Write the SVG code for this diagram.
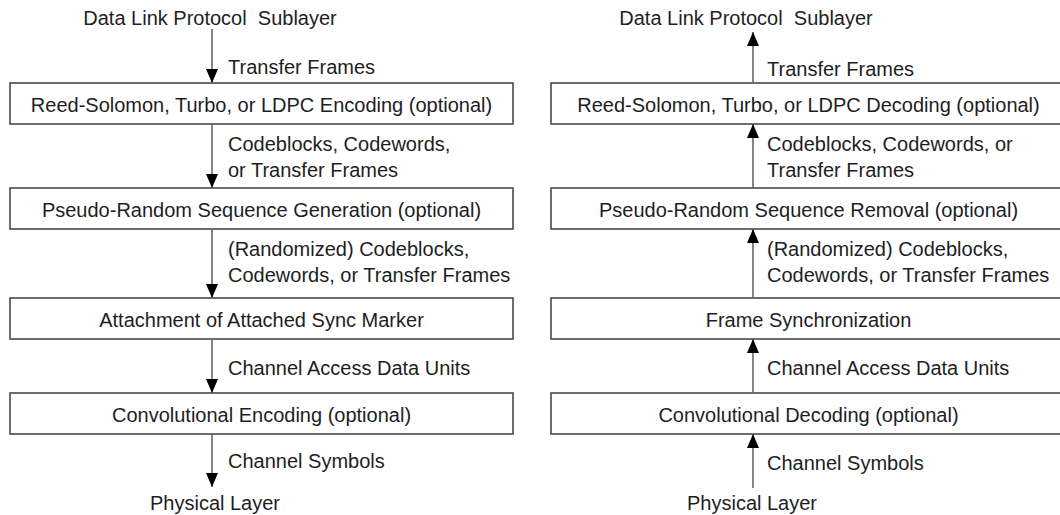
<svg xmlns="http://www.w3.org/2000/svg" width="1060" height="515" viewBox="0 0 1060 515">
  <style>
    text { font-family: "Liberation Sans", Arial, sans-serif; font-size: 20px; fill: #1e1e1e; }
    .mid { text-anchor: middle; }
    .box { fill: #ffffff; stroke: #4a4a4a; stroke-width: 1.6; }
    .flow { stroke: #666666; stroke-width: 1.6; fill: none; marker-end: url(#head); }
  </style>
  <defs>
    <marker id="head" markerUnits="userSpaceOnUse" markerWidth="14" markerHeight="12" refX="14" refY="6" orient="auto">
      <path d="M0,0 L14,6 L0,12 z" fill="#000000"/>
    </marker>
  </defs>
  <rect width="1060" height="515" fill="#ffffff"/>

  <!-- Transmit side (sending path, top to bottom) -->
  <g id="tx-top"><text x="210" y="25" class="mid" xml:space="preserve">Data Link Protocol  Sublayer</text></g>
  <g id="tx-rs"><rect class="box" x="10" y="83" width="503" height="41"/><text x="261.5" y="112" class="mid">Reed-Solomon, Turbo, or LDPC Encoding (optional)</text></g>
  <g id="tx-prs"><rect class="box" x="10" y="188" width="503" height="41"/><text x="261.5" y="217" class="mid">Pseudo-Random Sequence Generation (optional)</text></g>
  <g id="tx-asm"><rect class="box" x="10" y="298" width="503" height="41"/><text x="261.5" y="327" class="mid">Attachment of Attached Sync Marker</text></g>
  <g id="tx-conv"><rect class="box" x="10" y="393" width="503" height="41"/><text x="261.5" y="422" class="mid">Convolutional Encoding (optional)</text></g>
  <g id="tx-bottom"><text x="215" y="510" class="mid">Physical Layer</text></g>

  <!-- Receive side (receiving path, bottom to top) -->
  <g id="rx-top"><text x="746" y="25" class="mid" xml:space="preserve">Data Link Protocol  Sublayer</text></g>
  <g id="rx-rs"><rect class="box" x="551" y="83" width="520" height="41"/><text x="808.5" y="112" class="mid">Reed-Solomon, Turbo, or LDPC Decoding (optional)</text></g>
  <g id="rx-prs"><rect class="box" x="551" y="188" width="520" height="41"/><text x="808.5" y="217" class="mid">Pseudo-Random Sequence Removal (optional)</text></g>
  <g id="rx-sync"><rect class="box" x="551" y="298" width="520" height="41"/><text x="808.5" y="327" class="mid">Frame Synchronization</text></g>
  <g id="rx-conv"><rect class="box" x="551" y="393" width="520" height="41"/><text x="808.5" y="422" class="mid">Convolutional Decoding (optional)</text></g>
  <g id="rx-bottom"><text x="752" y="510" class="mid">Physical Layer</text></g>

  <!-- Connectors and their labels -->
  <g id="connectors">
    <line class="flow" x1="212" y1="29" x2="212" y2="83"/>
    <line class="flow" x1="212" y1="124" x2="212" y2="188"/>
    <line class="flow" x1="212" y1="229" x2="212" y2="298"/>
    <line class="flow" x1="212" y1="339" x2="212" y2="393"/>
    <line class="flow" x1="212" y1="434" x2="212" y2="487"/>

    <line class="flow" x1="753" y1="83" x2="753" y2="32"/>
    <line class="flow" x1="753" y1="188" x2="753" y2="124"/>
    <line class="flow" x1="753" y1="298" x2="753" y2="229"/>
    <line class="flow" x1="753" y1="393" x2="753" y2="339"/>
    <line class="flow" x1="753" y1="488" x2="753" y2="434"/>

    <text x="228" y="74">Transfer Frames</text>
    <text x="228" y="151">Codeblocks, Codewords,</text>
    <text x="228" y="177">or Transfer Frames</text>
    <text x="228" y="256">(Randomized) Codeblocks,</text>
    <text x="228" y="282">Codewords, or Transfer Frames</text>
    <text x="228" y="375">Channel Access Data Units</text>
    <text x="228" y="468">Channel Symbols</text>

    <text x="767" y="76">Transfer Frames</text>
    <text x="767" y="151">Codeblocks, Codewords, or</text>
    <text x="767" y="177">Transfer Frames</text>
    <text x="767" y="256">(Randomized) Codeblocks,</text>
    <text x="767" y="282">Codewords, or Transfer Frames</text>
    <text x="767" y="375">Channel Access Data Units</text>
    <text x="767" y="470">Channel Symbols</text>
  </g>
</svg>
